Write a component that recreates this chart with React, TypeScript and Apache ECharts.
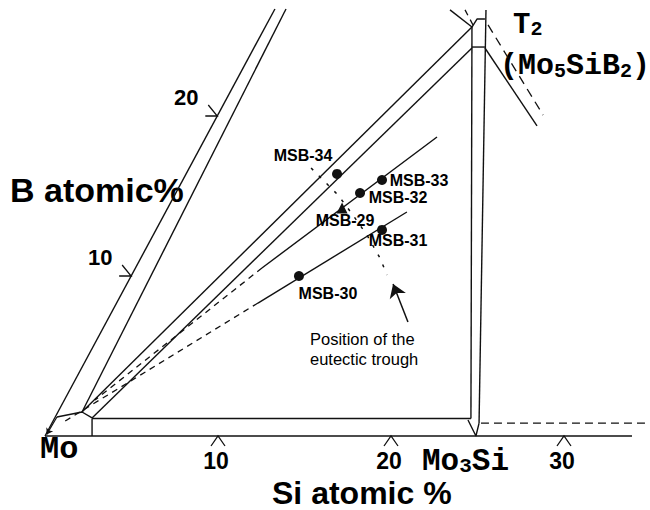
import React, { useEffect, useRef } from "react";
import * as echarts from "echarts";

// Plot coordinates: x = horizontal position in Si at.% units, y = vertical height in B at.% units
const X_MIN = -2.601;
const X_MAX = 34.971;
const Y_MIN = -4.625;
const Y_MAX = 27.25;

// ---- solid boundary lines ----
const siAxisLine = [[0, 0], [33.93, 0]];
const bAxisOuter = [[0, 0], [13.29, 26.69]];
const bAxisInner = [[2.14, 1.5], [13.93, 26.69]];
const moNode = [[0.69, 1.19], [2.14, 1.5], [2.72, 1.13]];
const innerBase = [[2.72, 1.09], [24.62, 1.09]];
const innerBaseStub = [[2.72, 1.09], [2.72, 0]];
const bandUpper = [[2.14, 1.5], [24.68, 25.56]];
const bandLower = [[2.72, 1.13], [24.68, 24.25]];
const tieC = [[22.66, 18.69], [12.54, 10.5]];
const tieD = [[20.92, 14.0], [12.31, 8.31]];
const mo3SiLeft = [[24.62, 1.09], [24.68, 25.56]];
const mo3SiRight = [[25.49, 26.63], [25.09, 0.81]];
const mo3SiCorner = [[24.45, 1.0], [24.91, 0], [25.09, 0.81]];
const t2Roof = [[24.68, 25.56], [24.97, 26.06], [25.43, 26.06]];
const t2Cross = [[24.68, 24.31], [25.43, 24.31]];
const t2TopLeft = [[23.41, 26.63], [24.68, 25.56]];
const t2Right = [[25.43, 24.25], [28.44, 19.38]];

// ---- dashed lines ----
const tieCExt = [[12.54, 10.5], [2.89, 2.25]];
const tieDExt = [[12.31, 8.31], [0.98, 0.81]];
const t2TopLeftDash = [[24.28, 26.63], [24.74, 25.69]];
const t2RightDash = [[25.61, 25.69], [28.79, 20.06]];
const baseDash = [[25.2, 0.81], [34.97, 0.81]];

// ---- eutectic trough (dash-dot) ----
const troughX = [15.38, 16.94, 17.75, 18.61, 19.36, 19.77];
const troughY = [16.75, 15.06, 13.88, 12.56, 11.13, 10.06];

// ---- arrows ----
const troughArrow = [[20.98, 7.13], [20.12, 9.5]];
const moArrow = [[0.69, 1.19], [0.1, 0.1]];

// ---- samples ----
const msbNames = ["MSB-34", "MSB-33", "MSB-32", "MSB-29", "MSB-31", "MSB-30"];
const msbX = [16.88, 19.48, 18.21, 17.17, 19.48, 14.68];
const msbY = [16.38, 16.0, 15.19, 14.25, 12.88, 10.0];
const msbLabelOffsets = [[-34, -18], [37, 0], [38, 5], [3, 12], [16, 11], [29, 17]];

// ---- tick labels ----
const siTicks = [10, 20, 30];
const bTicks = [10, 20];

const INK = "#111111";
const TEXT = "#000000";
const SANS = "'Liberation Sans', Arial, sans-serif";
const MONO = "'Liberation Mono', 'Courier New', monospace";

export default function App() {
  const ref = useRef<HTMLDivElement>(null);

  useEffect(() => {
    if (!ref.current) return;
    const chart = echarts.init(ref.current, undefined, { renderer: "svg" });

    const solid = (data: number[][]) => ({
      type: "line",
      data,
      symbol: "none",
      showSymbol: false,
      silent: true,
      lineStyle: { color: INK, width: 1.4 },
      z: 2,
    });
    const dashed = (data: number[][], dash: number[]) => ({
      type: "line",
      data,
      symbol: "none",
      showSymbol: false,
      silent: true,
      lineStyle: { color: INK, width: 1.3, type: dash },
      z: 2,
    });

    const bSlope = bAxisOuter[1][0] / bAxisOuter[1][1];

    const labelBase = (fs: number, half: number) => ({
      show: true,
      position: [half, half],
      color: TEXT,
      opacity: 1,
      fontSize: fs,
      fontWeight: "bold",
      fontFamily: SANS,
      align: "center",
      verticalAlign: "middle",
      textBorderWidth: 0,
    });

    const series: any[] = [
      solid(siAxisLine),
      solid(bAxisOuter),
      solid(bAxisInner),
      solid(moNode),
      solid(innerBase),
      solid(innerBaseStub),
      solid(bandUpper),
      solid(bandLower),
      solid(tieC),
      solid(tieD),
      solid(mo3SiLeft),
      solid(mo3SiRight),
      solid(mo3SiCorner),
      solid(t2Roof),
      solid(t2Cross),
      solid(t2TopLeft),
      solid(t2Right),
      dashed(tieCExt, [6, 5]),
      dashed(tieDExt, [6, 5]),
      dashed(t2TopLeftDash, [6, 5]),
      dashed(t2RightDash, [9, 6]),
      dashed(baseDash, [8, 5]),
      {
        type: "line",
        data: troughX.map((x, i) => [x, troughY[i]]),
        symbol: "none",
        silent: true,
        lineStyle: { color: INK, width: 1.5, type: [3, 8] },
      },
      {
        type: "lines",
        coordinateSystem: "cartesian2d",
        silent: true,
        symbol: ["none", "arrow"],
        symbolSize: [0, 13],
        lineStyle: { color: INK, width: 1.5, opacity: 1, curveness: 0 },
        itemStyle: { color: INK },
        data: [{ coords: troughArrow }],
      },
      {
        type: "lines",
        coordinateSystem: "cartesian2d",
        silent: true,
        symbol: ["none", "arrow"],
        symbolSize: [0, 6],
        lineStyle: { color: INK, width: 1.2, opacity: 1, curveness: 0 },
        itemStyle: { color: INK },
        data: [{ coords: moArrow }],
      },
      {
        type: "scatter",
        silent: true,
        z: 5,
        data: msbNames.map((n, i) => {
          const size = n === "MSB-29" ? 11 : 10;
          return {
            name: n,
            value: [msbX[i], msbY[i]],
            symbol: n === "MSB-29" ? "triangle" : "circle",
            symbolSize: size,
            label: { position: [size / 2, size / 2], offset: msbLabelOffsets[i] },
          };
        }),
        itemStyle: { color: "#111", opacity: 1 },
        label: { ...labelBase(16, 5), formatter: (p: any) => p.name },
      },
      // Si axis chevron ticks
      {
        type: "custom",
        silent: true,
        data: siTicks.map((v) => [v, 0]),
        renderItem: (params: any, api: any) => {
          const p = api.coord([api.value(0), api.value(1)]);
          return {
            type: "polyline",
            shape: { points: [[p[0] - 7, p[1] + 10], [p[0], p[1]], [p[0] + 7, p[1] + 10]] },
            style: { stroke: INK, fill: "none", lineWidth: 1.3 },
          };
        },
      },
      // Si axis tick labels
      {
        type: "scatter",
        silent: true,
        symbol: "circle",
        symbolSize: 2,
        itemStyle: { color: "rgba(0,0,0,0)", opacity: 1 },
        data: siTicks.map((v) => ({ name: String(v), value: [v, 0] })),
        label: { ...labelBase(23, 1), formatter: (p: any) => p.name, offset: [-2, 25] },
      },
      // B axis chevron ticks
      {
        type: "custom",
        silent: true,
        data: bTicks.map((v) => [v * bSlope, v]),
        renderItem: (params: any, api: any) => {
          const p = api.coord([api.value(0), api.value(1)]);
          return {
            type: "polyline",
            shape: { points: [[p[0] - 12, p[1]], [p[0], p[1]], [p[0] - 9, p[1] - 11]] },
            style: { stroke: INK, fill: "none", lineWidth: 1.3 },
          };
        },
      },
      // B axis tick labels
      {
        type: "scatter",
        silent: true,
        symbol: "circle",
        symbolSize: 2,
        itemStyle: { color: "rgba(0,0,0,0)", opacity: 1 },
        data: bTicks.map((v) => ({ name: String(v), value: [v * bSlope, v] })),
        label: { ...labelBase(22, 1), formatter: (p: any) => p.name, offset: [-31, -19] },
      },
    ];

    const monoRich = (big: number, small: number) => ({
      b: { fontSize: big, fontFamily: MONO, fontWeight: "bold", fill: TEXT, color: TEXT, verticalAlign: "bottom" },
      s: { fontSize: small, fontFamily: MONO, fontWeight: "bold", fill: TEXT, color: TEXT, verticalAlign: "bottom" },
    });

    const txt = (text: string, x: number, y: number, font: any, rich?: any) => ({
      type: "text",
      x,
      y,
      silent: true,
      style: {
        text,
        align: "left",
        verticalAlign: "middle",
        fill: TEXT,
        ...font,
        ...(rich ? { rich } : {}),
      },
    });

    chart.setOption({
      animation: false,
      grid: { left: 0, right: 0, top: 0, bottom: 0, containLabel: false },
      xAxis: { type: "value", min: X_MIN, max: X_MAX, show: false },
      yAxis: { type: "value", min: Y_MIN, max: Y_MAX, show: false },
      series,
      graphic: [
        txt("B atomic%", 10, 190, { fontSize: 34, fontWeight: "bold", fontFamily: SANS }),
        txt("Si atomic %", 272, 493, { fontSize: 32, fontWeight: "bold", fontFamily: SANS }),
        txt("Mo", 40, 449, { fontSize: 32, fontWeight: "bold", fontFamily: MONO }),
        txt("{b|Mo}{s|3}{b|Si}", 422, 461, { fontSize: 31, fontFamily: MONO, fontWeight: "bold" }, monoRich(31, 21)),
        txt("{b|T}{s|2}", 513, 25, { fontSize: 29, fontFamily: MONO, fontWeight: "bold" }, monoRich(29, 20)),
        txt("{b|(Mo}{s|5}{b|SiB}{s|2}{b|)}", 500, 66, { fontSize: 30, fontFamily: MONO, fontWeight: "bold" }, monoRich(30, 20)),
        txt("Position of the", 310, 339, { fontSize: 16.5, fontFamily: SANS }),
        txt("eutectic trough", 310, 359, { fontSize: 16.5, fontFamily: SANS }),
      ],
    });

    return () => chart.dispose();
  }, []);

  return (
    <div
      ref={ref}
      style={{ position: "absolute", left: 0, top: 0, width: 650, height: 510, background: "#fff" }}
    />
  );
}
